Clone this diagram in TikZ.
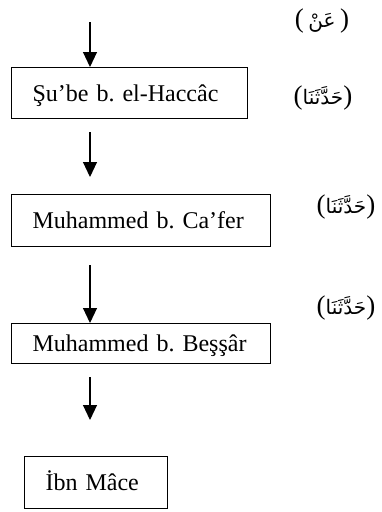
\documentclass[tikz,border=0pt]{standalone}
\usepackage{fontspec}
\setmainfont{Liberation Serif}
\newfontfamily\arabicfont[Script=Arabic]{DejaVu Sans}
\TeXXeTstate=1
\frenchspacing
\usetikzlibrary{arrows.meta}
\tikzset{
  namebox/.style={draw,line width=1.1pt,anchor=north west,inner xsep=21pt,inner ysep=0pt,
    align=left,text height=16pt,text depth=0pt},
  flow/.style={line width=1.1pt,-{Triangle[width=14pt,length=15pt]}},
  rivaye/.style={inner sep=0pt,font=\fontsize{27}{30}\selectfont}
}
\newcommand{\arb}[1]{{\arabicfont\fontsize{20}{24}\selectfont\beginR #1\endR}}

\begin{document}
\begin{tikzpicture}[x=1pt,y=-1pt,font=\fontsize{24}{28}\selectfont]
\useasboundingbox (0,0) rectangle (381,512);
% ravi kutulari
\node[namebox,text width=194pt,minimum height=51pt] (sube) at (11,67) {\mbox{Şu’be b. el-Haccâc}};
\node[namebox,text width=217pt,minimum height=52pt] (cafer) at (11,194) {\mbox{Muhammed b. Ca’fer}};
\node[namebox,text width=217pt,minimum height=40pt] (bessar) at (11,323) {\mbox{Muhammed b. Beşşâr}};
\node[namebox,text width=101pt,minimum height=52pt] (ibnmace) at (24,456) {\mbox{İbn Mâce}};
% rivayet sigalari
\node[rivaye] (an) at (322,21) {(\,\arb{عَنْ}\,)};
\node[rivaye] (hadd1) at (323,98) {(\arb{حَدَّثَنَا})};
\node[rivaye] (hadd2) at (346,207) {(\arb{حَدَّثَنَا})};
\node[rivaye] (hadd3) at (346,308) {(\arb{حَدَّثَنَا})};
% oklar
\coordinate (s0) at (90,22);
\coordinate (s1) at (90,132);
\coordinate (e1) at (90,177);
\coordinate (s2) at (90,265);
\coordinate (s3) at (90,377);
\coordinate (e3) at (90,420);
\draw[flow] (s0) -- (s0 |- sube.north);
\draw[flow] (s1) -- (e1);
\draw[flow] (s2) -- (s2 |- bessar.north);
\draw[flow] (s3) -- (e3);
\end{tikzpicture}
\end{document}
